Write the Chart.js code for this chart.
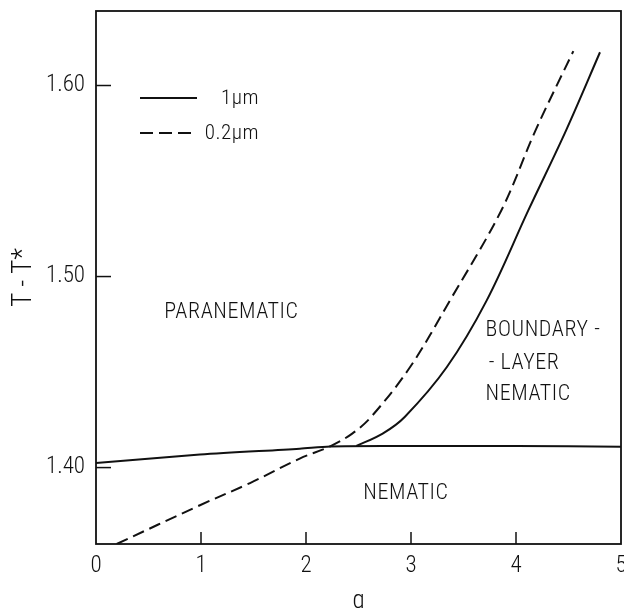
<!DOCTYPE html>
<html>
<head>
<meta charset="utf-8">
<script src="https://cdn.jsdelivr.net/npm/chart.js@4/dist/chart.umd.min.js"></script>
<style>
  html, body { margin: 0; padding: 0; background: #ffffff; }
  #wrap { width: 624px; height: 608px; position: relative; }
</style>
</head>
<body>
<div id="wrap"><canvas id="c" width="624" height="608"></canvas></div>
<script>
// ---- data ----
const xTicks = [0, 1, 2, 3, 4, 5];
const yTicks = [1.40, 1.50, 1.60];
const yTickLabels = ["1.40", "1.50", "1.60"];

// 1 µm curve (boundary-layer nematic branch)
const q1um = [2.48, 2.73, 2.94, 3.34, 3.72, 4.117, 4.476, 4.8];
const t1um = [1.4113, 1.4178, 1.4265, 1.4525, 1.4874, 1.5346, 1.5764, 1.6174];

// 0.2 µm curve
const q02um = [0.197, 0.99, 1.467, 1.94, 2.23, 2.44, 2.62, 2.99, 3.37, 3.86, 4.185, 4.546];
const t02um = [1.36, 1.3803, 1.3919, 1.4047, 1.4111, 1.4178, 1.4265, 1.4525, 1.4874, 1.5346, 1.5764, 1.618];

// nematic / paranematic boundary (solid)
const qBound = [0, 0.99, 1.94, 2.23, 3.0, 4.0, 5.0];
const tBound = [1.4024, 1.4068, 1.4099, 1.4111, 1.4113, 1.4113, 1.4109];

const seriesLabels = ["1\u03bcm", "0.2\u03bcm"];
const regionLabels = ["PARANEMATIC", "BOUNDARY -", "- LAYER", "NEMATIC", "NEMATIC"];
const regionQ = [1.29, 3.71, 3.74, 3.71, 2.952];
const regionT = [1.481, 1.4716, 1.4547, 1.4381, 1.3865];
const regionAlign = ["center", "left", "left", "left", "center"];

const xTitle = "q";
const yTitle = "T - T*";

// ---- build ----
const toPts = (xs, ys) => xs.map((x, i) => ({ x: x, y: ys[i] }));
const FONT = "'Roboto Condensed', 'DejaVu Sans Condensed', sans-serif";

const decor = {
  id: 'decor',
  afterDatasetsDraw(chart) {
    const ctx = chart.ctx;
    const a = chart.chartArea;
    const xs = chart.scales.x, ys = chart.scales.y;
    ctx.save();
    ctx.strokeStyle = '#111';
    ctx.lineWidth = 1.8;
    ctx.setLineDash([]);
    ctx.strokeRect(a.left, a.top, a.right - a.left, a.bottom - a.top);
    // inward ticks
    ctx.lineWidth = 1.5;
    xTicks.forEach(v => {
      if (v === 0 || v === 5) return;
      const px = xs.getPixelForValue(v);
      ctx.beginPath(); ctx.moveTo(px, a.bottom); ctx.lineTo(px, a.bottom - 12); ctx.stroke();
    });
    yTicks.forEach(v => {
      const py = ys.getPixelForValue(v);
      ctx.beginPath(); ctx.moveTo(a.left, py); ctx.lineTo(a.left + 15, py); ctx.stroke();
    });
    // region labels
    ctx.fillStyle = '#111';
    ctx.font = "300 22px " + FONT;
    ctx.textBaseline = 'middle';
    try { ctx.letterSpacing = '0.6px'; } catch (e) {}
    regionLabels.forEach((t, i) => {
      ctx.textAlign = regionAlign[i];
      ctx.fillText(t, xs.getPixelForValue(regionQ[i]), ys.getPixelForValue(regionT[i]));
    });
    // legend inside plot
    try { ctx.letterSpacing = '0.5px'; } catch (e) {}
    ctx.font = "300 21px " + FONT;
    ctx.textAlign = 'right';
    const legendRows = [
      { dash: [], y: a.top + 87, x0: a.left + 44, x1: a.left + 101 },
      { dash: [13, 6], y: a.top + 122, x0: a.left + 44, x1: a.left + 98 }
    ];
    legendRows.forEach((r, i) => {
      ctx.lineWidth = 2;
      ctx.setLineDash(r.dash);
      ctx.beginPath(); ctx.moveTo(r.x0, r.y); ctx.lineTo(r.x1, r.y); ctx.stroke();
      ctx.setLineDash([]);
      ctx.fillText(seriesLabels[i], a.left + 163, r.y + 1);
    });
    ctx.restore();
  }
};

new Chart(document.getElementById('c'), {
  type: 'line',
  data: {
    datasets: [
      { label: seriesLabels[0], data: toPts(q1um, t1um), borderColor: '#111', borderWidth: 2,
        pointRadius: 0, fill: false, tension: 0.35 },
      { label: seriesLabels[1], data: toPts(q02um, t02um), borderColor: '#111', borderWidth: 2,
        borderDash: [12, 6], pointRadius: 0, fill: false, tension: 0.35 },
      { label: 'boundary', data: toPts(qBound, tBound), borderColor: '#111', borderWidth: 2,
        pointRadius: 0, fill: false, tension: 0.3 }
    ]
  },
  options: {
    responsive: false,
    animation: false,
    devicePixelRatio: 1,
    layout: { padding: { top: 11, right: 3, left: 0, bottom: 0 } },
    plugins: { legend: { display: false }, tooltip: { enabled: false } },
    scales: {
      x: {
        type: 'linear', min: 0, max: 5,
        grid: { display: false, drawTicks: false },
        border: { display: false },
        afterBuildTicks: s => { s.ticks = xTicks.map(v => ({ value: v })); },
        afterFit: s => { s.height = 64; s.paddingLeft = 0; s.paddingRight = 0; },
        ticks: { color: '#111', padding: 8, font: { family: FONT, size: 23, weight: '300' },
                 callback: v => String(v) },
        title: { display: true, text: xTitle, color: '#111', font: { family: FONT, size: 25, weight: '300' },
                 padding: { top: 0, bottom: -9 } }
      },
      y: {
        type: 'linear', min: 1.36, max: 1.639,
        grid: { display: false, drawTicks: false },
        border: { display: false },
        afterBuildTicks: s => { s.ticks = yTicks.map(v => ({ value: v })); },
        afterFit: s => { s.width = 96; s.paddingTop = 0; s.paddingBottom = 0; },
        ticks: { color: '#111', padding: 11, font: { family: FONT, size: 23, weight: '300' },
                 callback: v => yTickLabels[yTicks.findIndex(t => Math.abs(t - v) < 1e-9)] },
        title: { display: true, text: yTitle, color: '#111', font: { family: FONT, size: 27, weight: '300' },
                 padding: { top: 8, bottom: 0 } }
      }
    }
  },
  plugins: [decor]
});
</script>
</body>
</html>
